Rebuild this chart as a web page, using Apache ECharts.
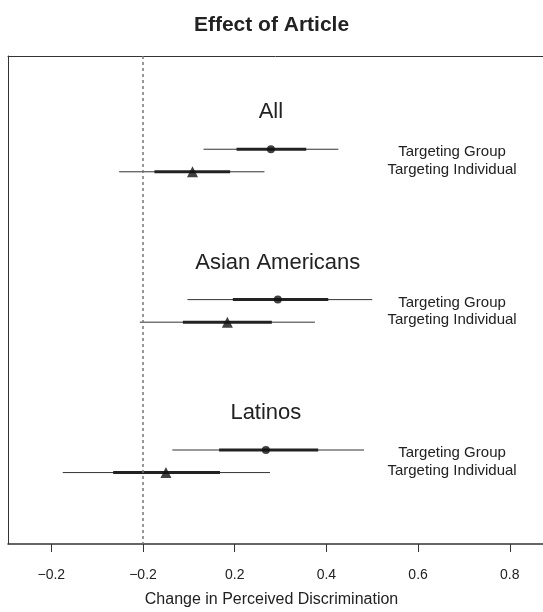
<!DOCTYPE html>
<html><head><meta charset="utf-8">
<script src="https://cdn.jsdelivr.net/npm/echarts@6/dist/echarts.min.js"></script>
<style>html,body{margin:0;padding:0;background:#fff}#c{width:543px;height:612px}</style>
</head><body><div id="c"></div>
<script>
const groups = ['All', 'Asian Americans', 'Latinos'];
const treatments = ['Targeting Group', 'Targeting Individual'];
const groupEst     = [0.279, 0.294, 0.268];
const groupInnerLo = [0.204, 0.196, 0.166];
const groupInnerHi = [0.356, 0.404, 0.382];
const groupOuterLo = [0.132, 0.097, 0.064];
const groupOuterHi = [0.426, 0.500, 0.482];
const indivEst     = [0.108, 0.184, 0.050];
const indivInnerLo = [0.025, 0.087, -0.065];
const indivInnerHi = [0.190, 0.281, 0.168];
const indivOuterLo = [-0.052, -0.007, -0.175];
const indivOuterHi = [0.265, 0.375, 0.277];
const tickValues = [-0.2, 0, 0.2, 0.4, 0.6, 0.8];
const tickLabels = ['\u22120.2', '\u22120.2', '0.2', '0.4', '0.6', '0.8'];

const FONT = '"Liberation Sans", Arial, Helvetica, sans-serif';
const INDIV_OFF = 0.15, LABEL_OFF = -0.246, RIGHT_LABEL_X = 0.674;
const X_MIN = -0.2944, X_MAX = 0.8724;

const intervals = [];
groups.forEach((g, i) => {
  intervals.push([groupOuterLo[i], groupOuterHi[i], groupInnerLo[i], groupInnerHi[i], i + 1]);
  intervals.push([indivOuterLo[i], indivOuterHi[i], indivInnerLo[i], indivInnerHi[i], i + 1 + INDIV_OFF]);
});
const groupPts = groups.map((g, i) => [groupEst[i], i + 1]);
const indivPts = groups.map((g, i) => [indivEst[i], i + 1 + INDIV_OFF]);
const titles = groups.map((g, i) => [groupEst[i], i + 1 + LABEL_OFF, g, 22, 0]);
const sideLabels = [];
groups.forEach((g, i) => {
  sideLabels.push([RIGHT_LABEL_X, i + 1, treatments[0], 15, 3]);
  sideLabels.push([RIGHT_LABEL_X, i + 1 + INDIV_OFF, treatments[1], 15, -2]);
});

function textItem(params, api) {
  const p = api.coord([api.value(0), api.value(1)]);
  const arr = params.seriesName === 'titles' ? titles : sideLabels;
  const it = arr[params.dataIndex];
  return {
    type: 'text', x: p[0], y: p[1] + it[4],
    style: { text: it[2], fontSize: it[3], fontFamily: FONT, fill: '#222', align: 'center', verticalAlign: 'middle' }
  };
}

const chart = echarts.init(document.getElementById('c'));
chart.setOption({
  animation: false,
  backgroundColor: '#fff',
  title: [
    { text: 'Effect of Article', left: 'center', top: 10, textStyle: { fontFamily: FONT, fontSize: 21, fontWeight: 'bold', color: '#222' } },
    { text: 'Change in Perceived Discrimination', left: 'center', top: 587, textStyle: { fontFamily: FONT, fontSize: 16, fontWeight: 'normal', color: '#222' } }
  ],
  grid: { left: 8, right: 0, top: 56, bottom: 68, show: false },
  xAxis: [{
    type: 'value', min: X_MIN, max: X_MAX,
    axisLine: { show: true, onZero: false, lineStyle: { color: '#333', width: 1.5 } },
    axisTick: { show: true, length: 8, customValues: tickValues, lineStyle: { color: '#333' } },
    axisLabel: { customValues: tickValues, margin: 24, fontSize: 14, fontFamily: FONT, color: '#222',
      formatter: v => { const k = tickValues.findIndex(t => Math.abs(t - v) < 1e-9); return k >= 0 ? tickLabels[k] : ''; } },
    splitLine: { show: false }
  }, {
    type: 'value', position: 'top', min: X_MIN, max: X_MAX,
    axisLine: { show: true, onZero: false, lineStyle: { color: '#333', width: 1 } },
    axisTick: { show: false }, axisLabel: { show: false }, splitLine: { show: false }
  }],
  yAxis: { type: 'value', inverse: true, min: 0.38, max: 3.625,
    axisLine: { show: true, onZero: false, lineStyle: { color: '#333', width: 1 } },
    axisTick: { show: false }, axisLabel: { show: false }, splitLine: { show: false } },
  series: [
    {
      type: 'custom', name: 'intervals', data: intervals, silent: true,
      encode: { x: [0, 1], y: 4 },
      renderItem: (params, api) => {
        const y = api.value(4);
        const a = api.coord([api.value(0), y]), b = api.coord([api.value(1), y]);
        const c = api.coord([api.value(2), y]), d = api.coord([api.value(3), y]);
        return { type: 'group', children: [
          { type: 'line', shape: { x1: a[0], y1: a[1], x2: b[0], y2: b[1] }, style: { stroke: '#333', lineWidth: 1 } },
          { type: 'line', shape: { x1: c[0], y1: c[1], x2: d[0], y2: d[1] }, style: { stroke: '#222', lineWidth: 3 } }
        ] };
      },
      markLine: { silent: true, symbol: 'none', label: { show: false },
        lineStyle: { type: [3, 3], color: '#777', width: 1.5 }, data: [{ xAxis: 0 }] }
    },
    { type: 'scatter', name: 'group', data: groupPts, symbol: 'circle', symbolSize: 8, itemStyle: { color: '#111' }, silent: true },
    { type: 'scatter', name: 'indiv', data: indivPts, symbol: 'triangle', symbolSize: 11, itemStyle: { color: '#111' }, silent: true },
    { type: 'custom', name: 'titles', data: titles.map(t => [t[0], t[1]]), renderItem: textItem, silent: true },
    { type: 'custom', name: 'side', data: sideLabels.map(t => [t[0], t[1]]), renderItem: textItem, silent: true }
  ]
});
</script></body></html>
